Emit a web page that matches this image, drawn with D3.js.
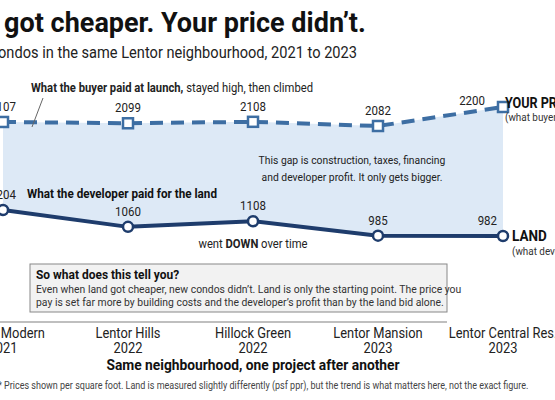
<!DOCTYPE html>
<html><head><meta charset="utf-8">
<script src="https://cdn.jsdelivr.net/npm/d3@7"></script>
<style>body{margin:0;background:#fff}svg{font-family:Roboto,sans-serif;display:block}</style>
</head><body><div id="chart"></div>
<script>
var projects = ["Lentor Modern", "Lentor Hills", "Hillock Green", "Lentor Mansion", "Lentor Central Res."];
var years = ["2021", "2022", "2022", "2023", "2023"];
var buyer = [2107, 2099, 2108, 2082, 2200];
var land = [1204, 1060, 1108, 985, 982];

var width = 555, height = 400;
var svg = d3.select("#chart").append("svg").attr("width", width).attr("height", height);

var x = d3.scalePoint().domain(projects).range([3, 503]);
// broken value axis: land band and buyer band drawn at their own spans
var y = d3.scaleLinear().domain([982, 1204, 2082, 2200]).range([236, 210, 126, 107]);

var idx = d3.range(projects.length);
var area = d3.area().x(function(i){ return x(projects[i]); })
	.y0(function(i){ return y(land[i]); }).y1(function(i){ return y(buyer[i]); });
svg.append("path").attr("d", area(idx)).attr("fill", "#dde9f6");

// condensed-looking text
function txt(px, py, size, sx) {
	return svg.append("text").attr("transform", "translate(" + px + "," + py + ") scale(" + (sx || 0.9) + ",1)")
		.attr("font-size", size).attr("fill", "#222");
}

txt(-62, 32, 27, 1).attr("font-weight", "bold").attr("fill", "#111").text("Land got cheaper. Your price didn\u2019t.");
txt(357, 58, 17, 0.86).attr("text-anchor", "end").text("New condos in the same Lentor neighbourhood, 2021 to 2023");

var lineB = d3.line().x(function(i){ return x(projects[i]); }).y(function(i){ return y(buyer[i]); });
var lineL = d3.line().x(function(i){ return x(projects[i]); }).y(function(i){ return y(land[i]); });
svg.append("path").attr("d", lineB(idx)).attr("fill", "none").attr("stroke", "#3d6ea3")
	.attr("stroke-width", 4).attr("stroke-dasharray", "13,8");
svg.append("path").attr("d", lineL(idx)).attr("fill", "none").attr("stroke", "#1e3c6c").attr("stroke-width", 4);

svg.selectAll(".bm").data(idx).enter().append("rect")
	.attr("x", function(i){ return x(projects[i]) - 5; }).attr("y", function(i){ return y(buyer[i]) - 5; })
	.attr("width", 10).attr("height", 10).attr("fill", "#fff").attr("stroke", "#3d6ea3").attr("stroke-width", 2.5);
svg.selectAll(".lm").data(idx).enter().append("circle")
	.attr("cx", function(i){ return x(projects[i]); }).attr("cy", function(i){ return y(land[i]); })
	.attr("r", 5).attr("fill", "#fff").attr("stroke", "#1e3c6c").attr("stroke-width", 2.5);

idx.forEach(function(i){
	var last = i == 4;
	txt(x(projects[i]) - (last ? 18 : 0), y(buyer[i]) - (last ? 2 : 11), 12.5, 0.92)
		.attr("text-anchor", last ? "end" : "middle").text(buyer[i]);
	txt(x(projects[i]) - (last ? 6 : 0), y(land[i]) - 11, 12.5, 0.92)
		.attr("text-anchor", last ? "end" : "middle").text(land[i]);
	txt(x(projects[i]), 338, 14, 0.92).attr("text-anchor", "middle").text(projects[i]);
	txt(x(projects[i]), 353, 14, 0.92).attr("text-anchor", "middle").text(years[i]);
});

var t = txt(31, 92, 12.5, 0.9);
t.append("tspan").attr("font-weight", "bold").text("What the buyer paid at launch,");
t.append("tspan").text(" stayed high, then climbed");
svg.append("line").attr("x1", 43).attr("y1", 98).attr("x2", 32).attr("y2", 127).attr("stroke", "#666");

txt(352, 164, 11.5, 0.9).attr("text-anchor", "middle").text("This gap is construction, taxes, financing");
txt(352, 181, 11.5, 0.9).attr("text-anchor", "middle").text("and developer profit. It only gets bigger.");
txt(27, 198, 13, 0.9).attr("font-weight", "bold").attr("fill", "#111").text("What the developer paid for the land");
var d = txt(253, 248, 12.5, 0.9).attr("text-anchor", "middle");
d.append("tspan").text("went ");
d.append("tspan").attr("font-weight", "bold").text("DOWN");
d.append("tspan").text(" over time");

txt(505, 108, 14, 0.9).attr("font-weight", "bold").attr("fill", "#111").text("YOUR PRICE");
txt(505, 121, 11, 0.9).attr("fill", "#333").text("(what buyers paid)");
txt(512, 241, 15, 0.9).attr("font-weight", "bold").attr("fill", "#111").text("LAND");
txt(512, 255, 11, 0.9).attr("fill", "#333").text("(what developers paid)");

svg.append("rect").attr("x", 30).attr("y", 264).attr("width", 417).attr("height", 48)
	.attr("fill", "#f2f2f2").attr("stroke", "#888").attr("stroke-width", 1);
txt(36, 279, 13, 0.92).attr("font-weight", "bold").attr("fill", "#111").text("So what does this tell you?");
txt(36, 293, 11.3, 0.92).attr("fill", "#333")
	.text("Even when land got cheaper, new condos didn\u2019t. Land is only the starting point. The price you");
txt(36, 306, 11.3, 0.92).attr("fill", "#333")
	.text("pay is set far more by building costs and the developer\u2019s profit than by the land bid alone.");

svg.append("line").attr("x1", 0).attr("x2", 447).attr("y1", 322).attr("y2", 322).attr("stroke", "#aaa").attr("stroke-width", 1.5);
txt(253, 370, 15, 0.92).attr("text-anchor", "middle").attr("font-weight", "bold").attr("fill", "#111")
	.text("Same neighbourhood, one project after another");
txt(-2, 389, 10.3, 0.875).attr("fill", "#444")
	.text("* Prices shown per square foot. Land is measured slightly differently (psf ppr), but the trend is what matters here, not the exact figure.");
</script></body></html>
